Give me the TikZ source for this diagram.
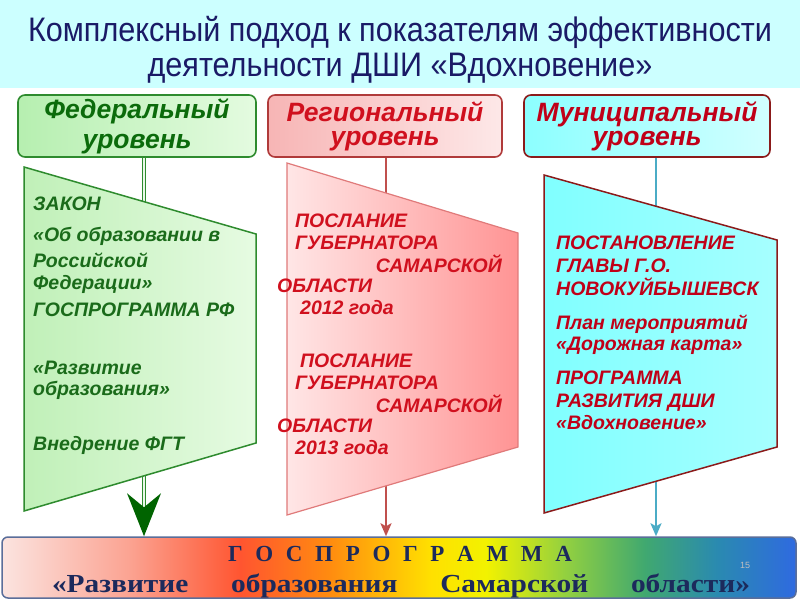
\documentclass[tikz,border=0pt]{standalone}
\usepackage{fontspec}
\setmainfont{Liberation Sans}
\newfontfamily\narrowfont[FakeStretch=0.90]{Liberation Sans}
\newfontfamily\serifbold[FakeStretch=1.13]{Liberation Serif}
\newfontfamily\serifplain{Liberation Serif}
\usetikzlibrary{arrows.meta,calc}
\definecolor{titleband}{HTML}{CCFFFF}
\definecolor{titletext}{HTML}{1A1A66}
\definecolor{fedborder}{HTML}{2E8B2E}
\definecolor{fedhl}{HTML}{B6EFB0}
\definecolor{fedhr}{HTML}{E4FBE0}
\definecolor{fedhtext}{HTML}{0B6B0B}
\definecolor{fedtl}{HTML}{C0F0B8}
\definecolor{fedtr}{HTML}{E6FBE2}
\definecolor{fedtext}{HTML}{1A6B1A}
\definecolor{fedline}{HTML}{2E8B2E}
\definecolor{fedgap}{HTML}{EAF8EA}
\definecolor{fedarrow}{HTML}{006400}
\definecolor{regborder}{HTML}{B03A3A}
\definecolor{reghl}{HTML}{F7B5B5}
\definecolor{reghr}{HTML}{FDE8E8}
\definecolor{regtl}{HTML}{FFE6E6}
\definecolor{regtr}{HTML}{FF9494}
\definecolor{regtborder}{HTML}{E07A7A}
\definecolor{regtext}{HTML}{D0101E}
\definecolor{regline}{HTML}{C0504D}
\definecolor{munborder}{HTML}{8B1A1A}
\definecolor{munhl}{HTML}{8CFFFF}
\definecolor{munhr}{HTML}{D2FFFF}
\definecolor{muntl}{HTML}{80FFFF}
\definecolor{muntr}{HTML}{A6FFFF}
\definecolor{muntext}{HTML}{C00018}
\definecolor{munline}{HTML}{4BACC6}
\definecolor{banborder}{HTML}{5A6E9A}
\definecolor{bantext}{HTML}{1C2A5C}
\definecolor{rb0}{HTML}{FBE4E0}
\definecolor{rb1}{HTML}{FBA392}
\definecolor{rb2}{HTML}{FF5530}
\definecolor{rb3}{HTML}{FF8A10}
\definecolor{rb4}{HTML}{FFE000}
\definecolor{rb5}{HTML}{F2F200}
\definecolor{rb6}{HTML}{92D040}
\definecolor{rb7}{HTML}{40A870}
\definecolor{rb8}{HTML}{2A8AB0}
\definecolor{rb9}{HTML}{2F6AE0}
\pgfdeclarehorizontalshading{rainbowsh}{100bp}{color(0bp)=(rb0); color(25bp)=(rb0); color(33bp)=(rb1); color(40bp)=(rb2); color(45.5bp)=(rb3); color(52bp)=(rb4); color(55.5bp)=(rb5); color(60.5bp)=(rb6); color(65.5bp)=(rb7); color(70bp)=(rb8); color(75bp)=(rb9); color(100bp)=(rb9)}
\newcommand\hdrfont[1]{\fontsize{26.5pt}{#1}\selectfont\bfseries\itshape}
\newcommand\bodyfont{\fontsize{19.5pt}{22pt}\selectfont\bfseries\itshape}
\begin{document}
\begin{tikzpicture}[x=1pt,y=-1pt,
  hdr/.style={draw, line width=1.6pt, rounded corners=7pt, inner sep=0pt, align=center},
  fedtxt/.style={anchor=base west, inner sep=0pt, text=fedtext, font=\bodyfont},
  regtxt/.style={anchor=base west, inner sep=0pt, text=regtext, font=\bodyfont},
  regtxtr/.style={anchor=base east, inner sep=0pt, text=regtext, font=\bodyfont},
  muntxt/.style={anchor=base west, inner sep=0pt, text=muntext, font=\bodyfont},
  titletxt/.style={inner sep=0pt, text=titletext, font={\narrowfont\fontsize{34pt}{40pt}\selectfont}},
  bantxt/.style={inner sep=0pt, anchor=base, text=bantext, font={\serifbold\fontsize{26pt}{28pt}\selectfont\bfseries}},
  bantxtone/.style={inner sep=0pt, anchor=base, text=bantext, font={\serifplain\fontsize{23pt}{26pt}\selectfont\bfseries}}]
\useasboundingbox (0,0) rectangle (800,600);
\fill[white] (0,0) rectangle (800,600);
% title band
\fill[titleband] (0,0) rectangle (800,88);
\node[titletxt] (t1) at (400,32) {Комплексный подход к показателям эффективности};
\node[titletxt] (t2) at (400,68) {деятельности ДШИ «Вдохновение»};
% header boxes
\node[hdr, draw=fedborder, left color=fedhl, right color=fedhr, minimum width=238pt, minimum height=62pt, text=fedhtext, font={\hdrfont{30pt}}] (fedh) at (137,126) {Федеральный\\уровень};
\node[hdr, draw=regborder, left color=reghl, right color=reghr, minimum width=234pt, minimum height=62pt, text=regtext, font={\hdrfont{24pt}}] (regh) at (385,126) {Региональный\\уровень};
\node[hdr, draw=munborder, left color=munhl, right color=munhr, minimum width=246pt, minimum height=62pt, text=muntext, font={\hdrfont{24pt}}] (munh) at (647,126) {Муниципальный\\уровень};
% banner
\node[draw=banborder, line width=1.5pt, rounded corners=6pt, shading=rainbowsh, minimum width=794pt, minimum height=61pt, inner sep=0pt] (banner) at (399,567.5) {};
\coordinate (fx) at (144,0);
\coordinate (rx) at (386,0);
\coordinate (mx) at (656,0);
% connectors
\draw[draw=fedline, double=fedgap, double distance=2pt, line width=1pt] (fedh.south -| fx) -- ($(banner.north -| fx)+(0,-30)$);
\draw[draw=regline, line width=2.2pt, -{Stealth[length=13pt,width=11pt,inset=3pt]}] (regh.south -| rx) -- (banner.north -| rx);
\draw[draw=munline, line width=2.2pt, -{Stealth[length=13pt,width=11pt,inset=3pt]}] (munh.south -| mx) -- (banner.north -| mx);
\fill[fedarrow] (banner.north -| fx) -- ++(-17,-43) -- ++(17,14) -- ++(17,-14) -- cycle;
% trapezoids
\path[draw=fedborder, line width=1.5pt, left color=fedtl, right color=fedtr] (24,167) -- (256,234) -- (256,443) -- (24,511) -- cycle;
\path[draw=regtborder, line width=1.2pt, left color=regtl, right color=regtr] (287,163) -- (518,233) -- (518,447) -- (287,515) -- cycle;
\path[draw=munborder, line width=1.5pt, left color=muntl, right color=muntr] (544,175) -- (777,240) -- (777,447) -- (544,513) -- cycle;
% federal text
\foreach \t/\y [count=\i] in {ЗАКОН/203, «Об образовании в/234, Российской/260, Федерации»/282, ГОСПРОГРАММА РФ/309, «Развитие/367, образования»/388, Внедрение ФГТ/443}
  \node[fedtxt] (f\i) at (33,\y+7) {\t};
% regional text
\node[regtxt] (r1) at (295,227) {ПОСЛАНИЕ};
\node[regtxt] (r2) at (295,249) {ГУБЕРНАТОРА};
\node[regtxtr] (r3) at (502,272) {САМАРСКОЙ};
\node[regtxt] (r4) at (277,292) {ОБЛАСТИ};
\node[regtxt] (r5) at (300,314) {2012 года};
\node[regtxt] (r6) at (300,367) {ПОСЛАНИЕ};
\node[regtxt] (r7) at (295,389) {ГУБЕРНАТОРА};
\node[regtxtr] (r8) at (502,412) {САМАРСКОЙ};
\node[regtxt] (r9) at (277,432) {ОБЛАСТИ};
\node[regtxt] (r10) at (295,454) {2013 года};
% municipal text
\foreach \t/\y [count=\i] in {ПОСТАНОВЛЕНИЕ/242, ГЛАВЫ Г.О./265, НОВОКУЙБЫШЕВСК/288, План мероприятий/322, «Дорожная карта»/343, ПРОГРАММА/377, РАЗВИТИЯ ДШИ/400, «Вдохновение»/422}
  \node[muntxt] (m\i) at (556,\y+7) {\t};
% banner text
\node[bantxtone] (b1) at (400,561) {\makebox[344pt][s]{Г\hfill О\hfill С\hfill П\hfill Р\hfill О\hfill Г\hfill Р\hfill А\hfill М\hfill М\hfill А}};
\node[bantxt] (b2) at (401,592) {\makebox[698pt][s]{«Развитие\hfill образования\hfill Самарской\hfill области»}};
\node[inner sep=0pt, text=black!25, font=\fontsize{9pt}{11pt}\selectfont] (num) at (745,565) {15};
\end{tikzpicture}
\end{document}
